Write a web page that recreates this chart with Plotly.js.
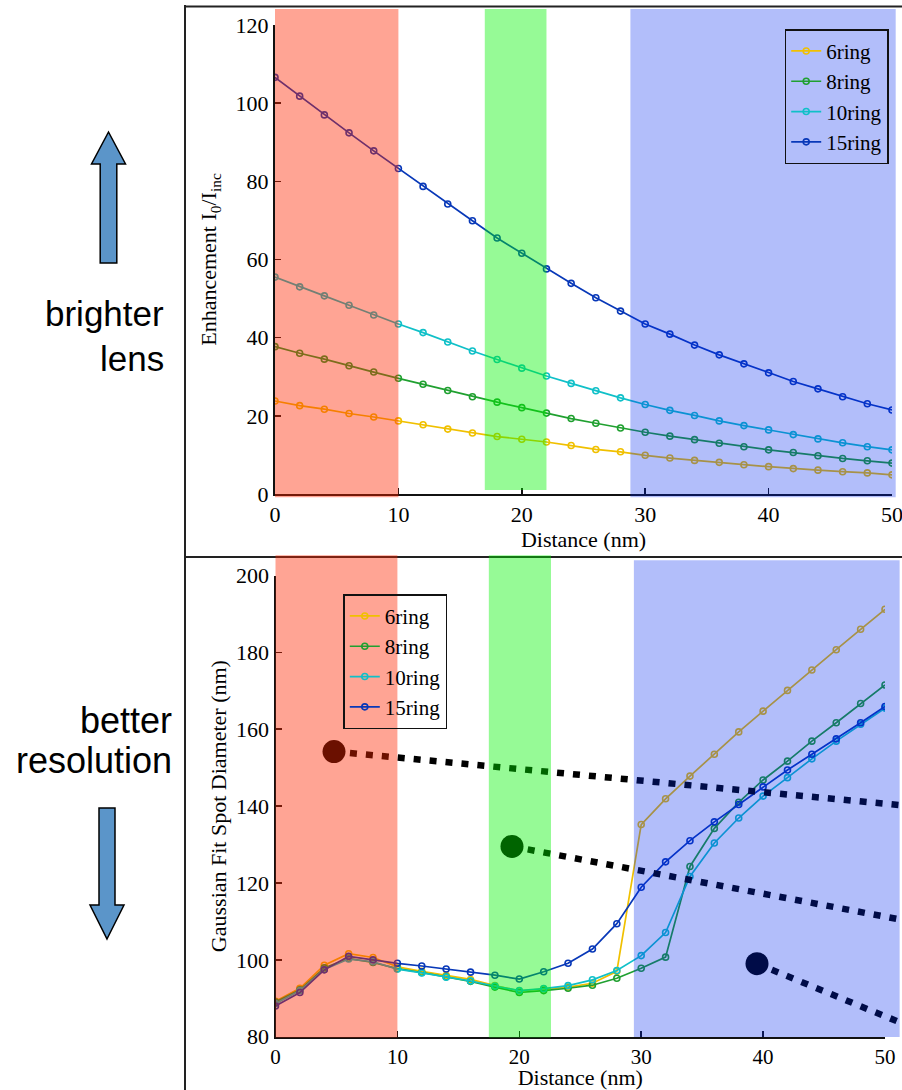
<!DOCTYPE html>
<html><head><meta charset="utf-8">
<script src="https://cdn.plot.ly/plotly-3.0.1.min.js"></script>
<style>html,body{margin:0;padding:0;background:#fff;}#chart{width:902px;height:1090px;}</style>
</head><body><div id="chart"></div>
<script>
// ---------- data ----------
const distance = [0,2,4,6,8,10,12,14,16,18,20,22,24,26,28,30,32,34,36,38,40,42,44,46,48,50];
const seriesNames = ['6ring','8ring','10ring','15ring'];

// Enhancement I0/Iinc (top panel)
const enh6  = [23.8,22.6,21.7,20.6,19.7,18.7,17.7,16.6,15.6,14.7,14.0,13.3,12.4,11.4,10.8,9.9,9.2,8.6,8.1,7.5,7.0,6.5,6.1,5.7,5.4,4.9];
const enh8  = [37.7,36.0,34.5,32.8,31.2,29.6,28.1,26.5,24.9,23.5,22.1,20.7,19.3,18.1,16.9,15.8,14.8,13.9,13.0,12.1,11.3,10.6,9.8,9.1,8.5,7.9];
const enh10 = [55.5,53.0,50.7,48.3,45.8,43.5,41.3,38.9,36.6,34.4,32.2,30.2,28.3,26.4,24.6,22.9,21.4,20.1,18.7,17.5,16.4,15.2,14.1,13.1,12.1,11.3];
const enh15 = [106.6,101.8,97.0,92.4,87.8,83.3,78.7,74.2,69.9,65.5,61.6,57.6,53.9,50.2,46.8,43.5,40.9,38.1,35.6,33.3,31.0,28.8,26.9,24.9,23.1,21.5];

// Gaussian fit spot diameter in nm (bottom panel)
const spot6  = [89.2,92.6,98.6,101.6,100.6,98.2,97.0,96.0,94.9,93.3,91.9,92.4,92.9,93.9,97.0,135.2,141.9,147.8,153.5,159.3,164.7,170.1,175.4,180.7,186.0,191.2];
const spot8  = [89.0,92.2,97.9,100.4,99.3,97.7,96.7,95.6,94.4,92.9,91.5,92.0,92.6,93.4,95.2,97.8,100.7,124.3,134.2,141.0,146.8,151.7,156.9,161.7,166.7,171.5];
const spot10 = [88.6,92.0,97.5,100.2,99.5,97.6,96.6,95.5,94.5,93.2,92.0,92.5,93.3,94.8,97.2,101.1,107.1,121.7,130.4,136.9,142.6,147.4,152.3,156.9,161.3,165.5];
const spot15 = [88.0,91.5,97.4,100.9,100.0,99.1,98.4,97.6,96.8,96.0,95.0,96.9,99.1,102.8,109.4,118.9,125.5,131.0,135.9,140.4,145.0,149.4,153.5,157.5,161.7,165.9];

// highlighted distance bands (nm): near, mid, far
const bandsTop    = [[0,10],[17,22],[28.8,50.3]];
const bandsBottom = [[0,10],[17.5,22.6],[29.4,51.2]];
// callout points on the bottom panel: [distance, diameter] start and end
const calloutStart = [[4.8,154.2],[19.4,129.5],[39.5,99.0]];
const calloutEnd   = [[51.4,140.2],[51.4,110.4],[51.4,83.5]];

// ---------- styling ----------
const W = 902, H = 1090;
const fx = v => v / W, fy = v => 1 - v / H;
const colors = ['#f0c000','#20a030','#10c0c8','#0838b8'];
const serif = 'Liberation Serif';
const XR = [0,50], YR1 = [0,120], YR2 = [80,200];
const dx = v => (v - XR[0]) / (XR[1] - XR[0]);
const dy1 = v => (v - YR1[0]) / (YR1[1] - YR1[0]);
const dy2 = v => (v - YR2[0]) / (YR2[1] - YR2[0]);

const enh = [enh6, enh8, enh10, enh15];
const spot = [spot6, spot8, spot10, spot15];
const traces = [];
function mk(n, i, y, xa, ya, lg) {
  return {x: distance, y: y, name: n, type: 'scatter', mode: 'lines+markers',
    xaxis: xa, yaxis: ya, legend: lg,
    line: {color: colors[i], width: 1.7},
    marker: {symbol: 'circle-open', size: 6, color: colors[i], line: {width: 1.6, color: colors[i]}}};
}
seriesNames.forEach((n, i) => traces.push(mk(n, i, enh[i], 'x', 'y', 'legend')));
seriesNames.forEach((n, i) => traces.push(mk(n, i, spot[i], 'x2', 'y2', 'legend2')));

const axisBase = {showline: true, linecolor: '#111', linewidth: 2, ticks: 'inside', ticklen: 6,
  tickwidth: 1.5, tickcolor: '#111', showgrid: false, zeroline: false, ticklabeloverflow: 'allow',
  tickfont: {family: serif, size: 22, color: '#000'}};

const shapes = [];
// frame lines
const frame = {type: 'line', xref: 'paper', yref: 'paper', layer: 'above', line: {color: '#222', width: 2}};
shapes.push(Object.assign({}, frame, {x0: fx(185), x1: fx(185), y0: 0, y1: fy(5)}));
shapes.push(Object.assign({}, frame, {x0: fx(184), x1: 1, y0: fy(6.5), y1: fy(6.5)}));
shapes.push(Object.assign({}, frame, {x0: fx(184), x1: 1, y0: fy(557), y1: fy(557)}));

// callouts (black, tinted by the bands drawn over them)
calloutStart.forEach((p, i) => {
  const q = calloutEnd[i];
  shapes.push({type: 'line', layer: 'above', xref: 'x2 domain', yref: 'y2 domain',
    x0: dx(p[0]), y0: dy2(p[1]), x1: dx(q[0]), y1: dy2(q[1]),
    line: {color: '#000', width: 6.5, dash: '7px,9px'}});
  shapes.push({type: 'circle', layer: 'above', xref: 'x2', yref: 'y2',
    xsizemode: 'pixel', ysizemode: 'pixel', xanchor: p[0], yanchor: p[1],
    x0: -11.5, x1: 11.5, y0: -11.5, y1: 11.5, fillcolor: '#000', line: {width: 0}});
});

// translucent bands
const bandStyle = [
  {fillcolor: 'rgb(255,38,0)', opacity: 0.42},
  {fillcolor: 'rgb(0,244,0)', opacity: 0.41},
  {fillcolor: 'rgb(0,40,240)', opacity: 0.30}
];
const topY = [[-0.8,124.1],[1.0,124.1],[-0.8,124.1]];
bandsTop.forEach((b, i) => {
  shapes.push(Object.assign({type: 'rect', layer: 'above', xref: 'x domain', yref: 'y domain',
    x0: dx(b[0]), x1: dx(b[1]), y0: dy1(topY[i][0]), y1: dy1(topY[i][1]), line: {width: 0}}, bandStyle[i]));
});
const botY = [[79.8,205.3],[79.8,205.3],[79.9,204.0]];
bandsBottom.forEach((b, i) => {
  shapes.push(Object.assign({type: 'rect', layer: 'above', xref: 'x2 domain', yref: 'y2 domain',
    x0: dx(b[0]), x1: dx(b[1]), y0: dy2(botY[i][0]), y1: dy2(botY[i][1]), line: {width: 0}}, bandStyle[i]));
});

// side arrows
function arrowPath(cx, tipY, headY, endY, hw, sw) {
  const pts = [[cx, tipY],[cx + hw, headY],[cx + sw, headY],[cx + sw, endY],[cx - sw, endY],[cx - sw, headY],[cx - hw, headY]];
  return 'M' + pts.map(p => fx(p[0]).toFixed(5) + ',' + fy(p[1]).toFixed(5)).join(' L') + ' Z';
}
shapes.push({type: 'path', xref: 'paper', yref: 'paper', layer: 'above',
  path: arrowPath(108.5, 132, 164, 263, 17, 8.3), fillcolor: '#5b95c9', line: {color: '#000', width: 1.5}});
shapes.push({type: 'path', xref: 'paper', yref: 'paper', layer: 'above',
  path: arrowPath(107, 939, 905, 808, 17, 8), fillcolor: '#5b95c9', line: {color: '#000', width: 1.5}});

const sideFont = {family: 'Liberation Sans', size: 35, color: '#000'};
const sideFont2 = {family: 'Liberation Sans', size: 36, color: '#000'};
function side(text, xr, yc, f) {
  return {xref: 'paper', yref: 'paper', x: fx(xr), y: fy(yc), xanchor: 'right', yanchor: 'middle',
    align: 'right', text: text, showarrow: false, font: f};
}
const annotations = [
  side('brighter', 166, 313, sideFont),
  side('lens', 166, 358, sideFont),
  side('better', 174, 720, sideFont2),
  side('resolution', 174, 760, sideFont2)
];

const legendBase = {bgcolor: 'rgba(0,0,0,0)', bordercolor: '#111', borderwidth: 1.5,
  font: {family: serif, size: 21, color: '#000'}, itemwidth: 30, tracegroupgap: 0};

const titleFont = {family: serif, size: 22, color: '#000'};
const layout = {
  width: W, height: H, margin: {l: 0, r: 0, t: 0, b: 0},
  paper_bgcolor: '#fff', plot_bgcolor: 'rgba(0,0,0,0)',
  font: {family: serif, color: '#000'},
  xaxis: Object.assign({}, axisBase, {domain: [fx(275), fx(892)], range: XR, dtick: 10, anchor: 'y',
    title: {text: 'Distance (nm)', font: titleFont, standoff: 0}}),
  yaxis: Object.assign({}, axisBase, {domain: [fy(494), fy(25)], range: YR1, dtick: 20, anchor: 'x',
    title: {text: 'Enhancement I<sub>0</sub>/I<sub>inc</sub>', font: titleFont, standoff: 13}}),
  xaxis2: Object.assign({}, axisBase, {domain: [fx(275.5), fx(885)], range: XR, dtick: 10, anchor: 'y2',
    tickfont: {family: serif, size: 21, color: '#000'},
    title: {text: 'Distance (nm)', font: titleFont, standoff: 0}}),
  yaxis2: Object.assign({}, axisBase, {domain: [fy(1036.7), fy(575.5)], range: YR2, dtick: 20, anchor: 'x2',
    title: {text: 'Gaussian Fit Spot Diameter (nm)', font: titleFont, standoff: 3}}),
  legend: Object.assign({}, legendBase, {x: fx(888.7), xanchor: 'right', y: fy(29.3), yanchor: 'top'}),
  legend2: Object.assign({}, legendBase, {x: fx(343.3), xanchor: 'left', y: fy(594.3), yanchor: 'top'}),
  shapes: shapes,
  annotations: annotations,
  showlegend: true
};

Plotly.newPlot('chart', traces, layout, {displayModeBar: false, staticPlot: true});
</script>
</body></html>
